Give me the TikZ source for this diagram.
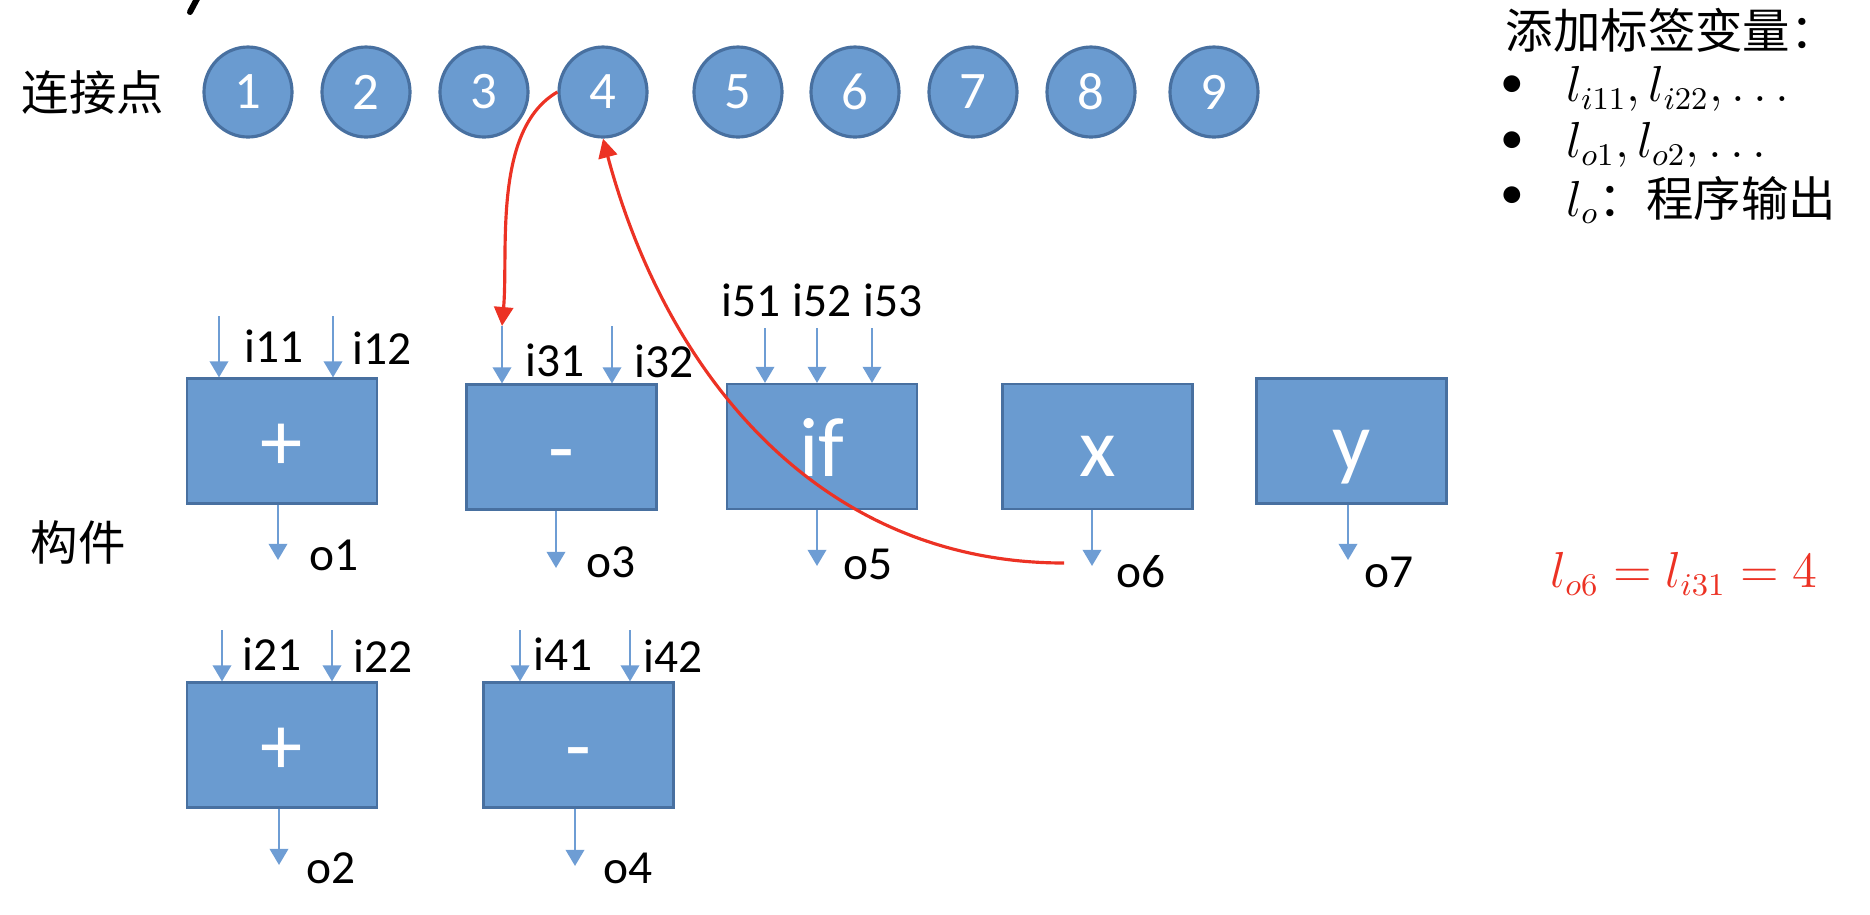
\documentclass[tikz,border=0pt]{standalone}
\usepackage{fontspec}
\setmainfont{Carlito}
\newfontfamily\cjk{Noto Sans CJK SC}
\usetikzlibrary{arrows.meta,positioning,calc,shapes.geometric}
\definecolor{boxblue}{RGB}{106,155,208}
\definecolor{boxedge}{RGB}{72,112,160}
\definecolor{wireblue}{RGB}{110,157,212}
\definecolor{linkred}{RGB}{236,50,36}
\tikzset{
  compblk/.style={draw=boxedge,fill=boxblue,line width=0.6pt,minimum width=1.9cm,minimum height=1.25cm,inner sep=0pt,
    text=white,font=\fontsize{24}{28}\selectfont,text height=0.62cm,text depth=0.03cm},
  portnd/.style={ellipse,draw=boxedge,fill=boxblue,line width=0.9pt,minimum width=0.88cm,minimum height=0.90cm,inner sep=0pt,
    text=white,font=\fontsize{15}{18}\selectfont},
  inarr/.style={-{Triangle[length=4.6pt,width=5.2pt]},wireblue,line width=0.8pt},
  lnkarr/.style={-{Triangle[length=5.4pt,width=5.4pt]},linkred,line width=0.9pt},
  lbl/.style={font=\fontsize{13.5}{16}\selectfont,inner sep=0pt},
  cjklbl/.style={font=\cjk\fontsize{13.5}{16}\selectfont,inner sep=0pt}
}

\begin{document}
\begin{tikzpicture}
  \useasboundingbox (0,0) rectangle (18.70,-9.14);
  % cut-off title stroke
  \draw[line width=1.7pt,line cap=round] (1.98,0.03) -- (1.90,-0.12);

  % Connection points
  \node[cjklbl] (pts-lbl) at (0.93,-0.93) {连接点};
  \foreach \n/\x in {1/2.48,2/3.66,3/4.84,4/6.03,5/7.38,6/8.55,7/9.73,8/10.91,9/12.14}
    \node[portnd] (c\n) at (\x,-0.92) {\n};

  % Components
  \node[cjklbl] (comp-lbl) at (0.78,-5.42) {构件};
  \node[compblk] (add1) at (2.82,-4.41) {+};
  \node[compblk] (sub1) at (5.615,-4.47) {-};
  \node[compblk] (ifb) at (8.22,-4.465) {if};
  \node[compblk] (xb) at (10.975,-4.465) {x};
  \node[compblk] (yb) at (13.515,-4.41) {y};
  \node[compblk] (add2) at (2.82,-7.45) {+};
  \node[compblk] (sub2) at (5.785,-7.45) {-};

  % Input ports
  \foreach \p/\b/\x/\y/\lx/\ly in {i11/add1/2.19/-3.16/2.74/-3.46, i12/add1/3.33/-3.16/3.82/-3.48,
      i31/sub1/5.02/-3.26/5.55/-3.60, i32/sub1/6.12/-3.26/6.64/-3.61,
      i51/ifb/7.65/-3.28/7.51/-3.00, i52/ifb/8.17/-3.28/8.22/-3.00, i53/ifb/8.72/-3.28/8.93/-3.00,
      i21/add2/2.22/-6.30/2.72/-6.54, i22/add2/3.32/-6.30/3.83/-6.56,
      i41/sub2/5.20/-6.30/5.63/-6.54, i42/sub2/6.30/-6.30/6.73/-6.56}{
    \coordinate (\p) at (\x,\y);
    \draw[inarr] (\p) -- (\p |- \b.north);
    \node[lbl] (\p-lbl) at (\lx,\ly) {\p};
  }

  % Output ports
  \foreach \p/\b/\x/\y/\lx/\ly in {o1/add1/2.78/-5.60/3.34/-5.55, o3/sub1/5.56/-5.68/6.11/-5.62,
      o5/ifb/8.17/-5.66/8.68/-5.64, o6/xb/10.92/-5.66/11.41/-5.72, o7/yb/13.48/-5.60/13.89/-5.72,
      o2/add2/2.79/-8.65/3.31/-8.68, o4/sub2/5.75/-8.66/6.28/-8.68}{
    \coordinate (\p) at (\x,\y);
    \draw[inarr] (\p |- \b.south) -- (\p);
    \node[lbl] (\p-lbl) at (\lx,\ly) {\p};
  }

  % Label links
  \coordinate (wire6) at (10.64,-5.63);
  \draw[lnkarr] (c4.west) to[out=210,in=85,looseness=0.8] (i31);
  \draw[lnkarr] (wire6) to[out=180,in=-75] (c4.south);

  % Notes
  \node[cjklbl,anchor=west] (note-hd) at (15.05,-0.30) {添加标签变量：};
  \node[lbl] (dot-a) at (15.12,-0.87) {\textbullet};
  \node[lbl] (dot-b) at (15.12,-1.43) {\textbullet};
  \node[lbl] (dot-c) at (15.12,-1.98) {\textbullet};
  \node[lbl,anchor=west] (note-a) at (15.66,-0.89) {$l_{i11},l_{i22},\ldots$};
  \node[lbl,anchor=west] (note-b) at (15.66,-1.45) {$l_{o1},l_{o2},\ldots$};
  \node[lbl,anchor=west] (note-c) at (15.66,-2.00) {$l_o${\cjk：程序输出}};
  \node[lbl,anchor=west,text=linkred] (eq) at (15.50,-5.74) {$l_{o6}=l_{i31}=4$};
\end{tikzpicture}
\end{document}
